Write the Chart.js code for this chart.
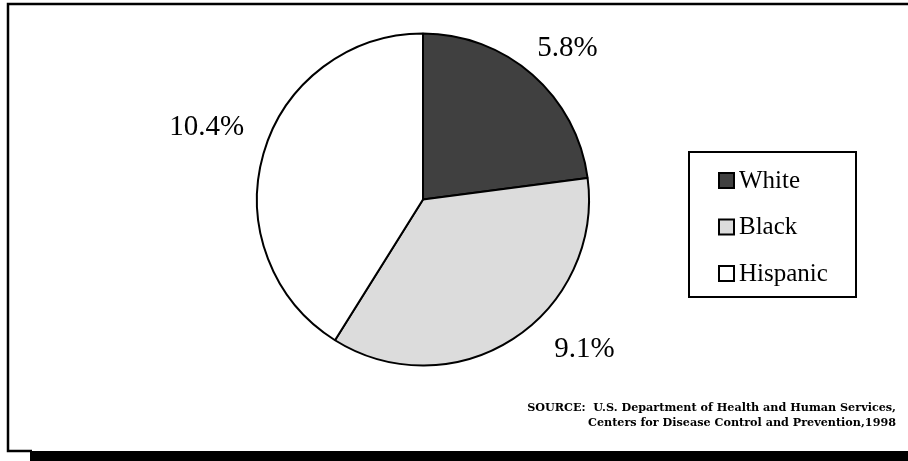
<!DOCTYPE html>
<html>
<head>
<meta charset="utf-8">
<title>Pie chart</title>
<script src="https://cdn.jsdelivr.net/npm/chart.js@4/dist/chart.umd.min.js"></script>
<style>
  html, body { margin: 0; padding: 0; background: #fff; }
  #wrap { width: 908px; height: 461px; }
</style>
</head>
<body>
<div id="wrap"><canvas id="pie" width="908" height="461"></canvas></div>
<script>
// Groups and their rates (percent)
const groups = ['White', 'Black', 'Hispanic'];
const rates = [5.8, 9.1, 10.4];
const sliceColors = ['#404040', '#dcdcdc', '#ffffff'];
const sourceLines = [
    'SOURCE:  U.S. Department of Health and Human Services,',
    'Centers for Disease Control and Prevention,1998'
];

const SERIF = '"Liberation Serif", "Times New Roman", serif';
const NOTE_FONT = 'bold 11.2px "DejaVu Serif", serif';

// Frame around the figure plus the heavy bar underneath
const framePlugin = {
    id: 'frame',
    beforeDraw(chart) {
        const ctx = chart.ctx;
        ctx.save();
        ctx.fillStyle = '#fff';
        ctx.fillRect(0, 0, chart.width, chart.height);
        ctx.strokeStyle = '#000';
        ctx.lineWidth = 2.5;
        ctx.beginPath();
        ctx.moveTo(chart.width + 2, 4);
        ctx.lineTo(8, 4);
        ctx.lineTo(8, 451);
        ctx.lineTo(32, 451);
        ctx.stroke();
        ctx.fillStyle = '#000';
        ctx.fillRect(30, 451, chart.width - 30, 10);
        ctx.restore();
    }
};

// Percent labels placed around each slice
const labelPlugin = {
    id: 'sliceLabels',
    afterDatasetsDraw(chart) {
        const ctx = chart.ctx;
        const arcs = chart.getDatasetMeta(0).data;
        // angle nudge (degrees) and distance from centre for each label
        const place = [[2.5, 209], [-14.5, 220], [2.5, 228]];
        ctx.save();
        ctx.font = '29px ' + SERIF;
        ctx.fillStyle = '#000';
        ctx.textAlign = 'center';
        ctx.textBaseline = 'middle';
        arcs.forEach((arc, i) => {
            const p = arc.getProps(['x', 'y', 'startAngle', 'endAngle'], true);
            const mid = (p.startAngle + p.endAngle) / 2 + place[i][0] * Math.PI / 180;
            const tx = p.x + Math.cos(mid) * place[i][1];
            const ty = p.y + Math.sin(mid) * place[i][1];
            ctx.fillText(rates[i].toFixed(1) + '%', tx, ty);
        });
        ctx.restore();
    }
};

// Boxed legend on the right
const legendPlugin = {
    id: 'boxLegend',
    afterDraw(chart) {
        const ctx = chart.ctx;
        ctx.save();
        ctx.strokeStyle = '#000';
        ctx.lineWidth = 2;
        ctx.strokeRect(689, 152, 167, 145);
        ctx.font = '25px ' + SERIF;
        ctx.textBaseline = 'middle';
        ctx.textAlign = 'left';
        groups.forEach((g, i) => {
            const cy = 180 + i * 46.5;
            ctx.fillStyle = sliceColors[i];
            ctx.fillRect(719, cy - 7, 15, 15);
            ctx.lineWidth = 2;
            ctx.strokeRect(719, cy - 7, 15, 15);
            ctx.fillStyle = '#000';
            ctx.fillText(g, 739, cy + 1);
        });
        ctx.restore();
    }
};

// Source note, right aligned at the bottom
const sourcePlugin = {
    id: 'sourceNote',
    afterDraw(chart) {
        const ctx = chart.ctx;
        ctx.save();
        ctx.font = NOTE_FONT;
        ctx.fillStyle = '#000';
        ctx.textBaseline = 'middle';
        ctx.textAlign = 'right';
        sourceLines.forEach((line, i) => {
            ctx.fillText(line, 896, 408 + i * 15.5);
        });
        ctx.restore();
    }
};

new Chart(document.getElementById('pie'), {
    type: 'pie',
    data: {
        labels: groups,
        datasets: [{
            data: rates,
            backgroundColor: sliceColors,
            borderColor: '#000',
            borderWidth: 2
        }]
    },
    options: {
        responsive: false,
        animation: false,
        layout: { padding: { top: 32, bottom: 94, left: 256, right: 318 } },
        plugins: {
            legend: { display: false },
            tooltip: { enabled: false }
        }
    },
    plugins: [framePlugin, labelPlugin, legendPlugin, sourcePlugin]
});
</script>
</body>
</html>
